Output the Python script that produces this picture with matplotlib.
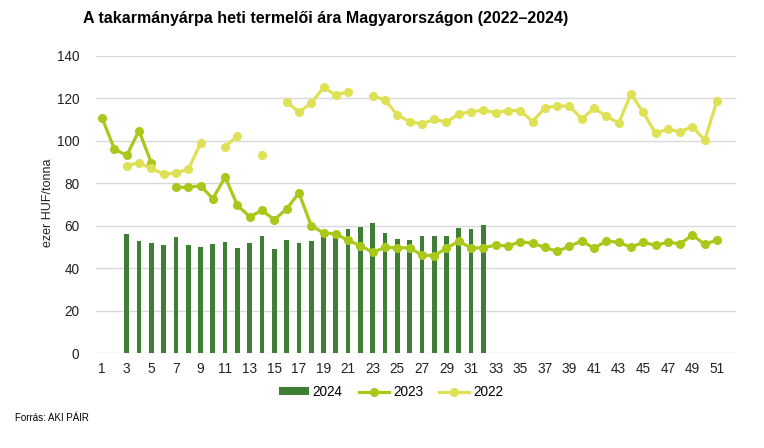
import numpy as np
import matplotlib

matplotlib.use("Agg")
import matplotlib.pyplot as plt

plt.rcParams["font.family"] = ["Liberation Sans", "DejaVu Sans"]

# heti adatok, ezer HUF/tonna (None = nincs adat)
weeks = list(range(1, 53))
tick_weeks = list(range(1, 52, 2))

price_2024 = [
    None, None, 56.0, 52.6, 51.7, 50.8, 54.7, 50.8, 50.0, 51.4,
    52.5, 49.7, 51.9, 55.2, 48.9, 53.1, 51.9, 53.0, 56.0, 57.0,
    58.3, 59.2, 61.1, 56.6, 53.6, 53.4, 55.0, 55.3, 55.0, 58.9,
    58.6, 60.2,
]
price_2023 = [
    110.7, 96.0, 93.1, 104.7, 89.5, None, 78.1, 78.1, 78.8, 72.7,
    82.9, 69.6, 64.2, 67.2, 62.8, 67.9, 75.4, 60.0, 56.6, 56.1,
    53.1, 50.6, 47.5, 49.8, 49.6, 49.6, 46.2, 45.9, 49.4, 52.7,
    49.5, 49.6, 50.9, 50.4, 52.5, 51.7, 49.8, 47.9, 50.3, 52.8,
    49.4, 52.8, 52.2, 49.8, 52.2, 50.8, 52.2, 51.5, 55.6, 51.2,
    53.3,
]
price_2022 = [
    None, None, 88.2, 89.6, 87.0, 84.2, 84.8, 86.5, 98.8, None,
    97.2, 102.2, None, 93.4, None, 118.2, 113.5, 117.6, 125.1, 121.5,
    123.1, None, 121.0, 119.2, 112.1, 109.0, 107.9, 110.1, 108.7, 112.6,
    113.7, 114.3, 113.2, 114.2, 114.1, 109.0, 115.5, 116.3, 116.3, 110.2,
    115.2, 111.6, 108.2, 122.0, 113.3, 103.5, 105.4, 104.2, 106.6, 100.3,
    118.8,
]


def as_array(values):
    return np.array([np.nan if v is None else v for v in values], dtype=float)


fig = plt.figure(figsize=(7.64, 4.48), dpi=100)
ax = fig.add_axes([96 / 764, 1 - 353.2 / 448, (735.5 - 96) / 764, (353.2 - 55.7) / 448])

y24 = as_array(price_2024)
bars = ax.bar(weeks[:len(y24)], np.nan_to_num(y24), width=0.38, color="#3f7f35", label="2024", zorder=2)

line23, = ax.plot(weeks[:len(price_2023)], as_array(price_2023), color="#a9c81a", lw=2.3,
                  marker="o", ms=5.5, label="2023", zorder=3)
line22, = ax.plot(weeks[:len(price_2022)], as_array(price_2022), color="#dfe155", lw=2.3,
                  marker="o", ms=5.5, label="2022", zorder=3)

ax.set_xlim(0.5, 52.5)
ax.set_ylim(0, 140)
ax.set_yticks(range(0, 141, 20))
ax.set_xticks(tick_weeks)
ax.tick_params(length=0, labelsize=9.8, colors="#222222")
ax.tick_params(axis="x", pad=6)
ax.tick_params(axis="y", pad=12)
ax.grid(axis="y", color="#d9d9d9", lw=1, zorder=0)
for side in ["top", "right", "left", "bottom"]:
    ax.spines[side].set_visible(False)
ax.set_axisbelow(True)

fig.text(48 / 764, 1 - 203 / 448, "ezer HUF/tonna", rotation=90, ha="center", va="center",
         fontsize=9, color="#222222")

fig.text(83 / 764, 1 - 18 / 448, "A takarmányárpa heti termelői ára Magyarországon (2022–2024)",
         ha="left", va="center", fontsize=11.5, fontweight="bold")

fig.legend(handles=[bars, line23, line22], labels=["2024", "2023", "2022"],
           loc="center", bbox_to_anchor=(391 / 764, 1 - 392 / 448), ncol=3, frameon=False,
           fontsize=9.8, handlelength=2.2, handleheight=0.5, handletextpad=0.3, columnspacing=1.2)

fig.text(15 / 764, 1 - 418 / 448, "Forrás: AKI PÁIR", ha="left", va="center", fontsize=7)

fig.savefig("out.png", dpi=100)
